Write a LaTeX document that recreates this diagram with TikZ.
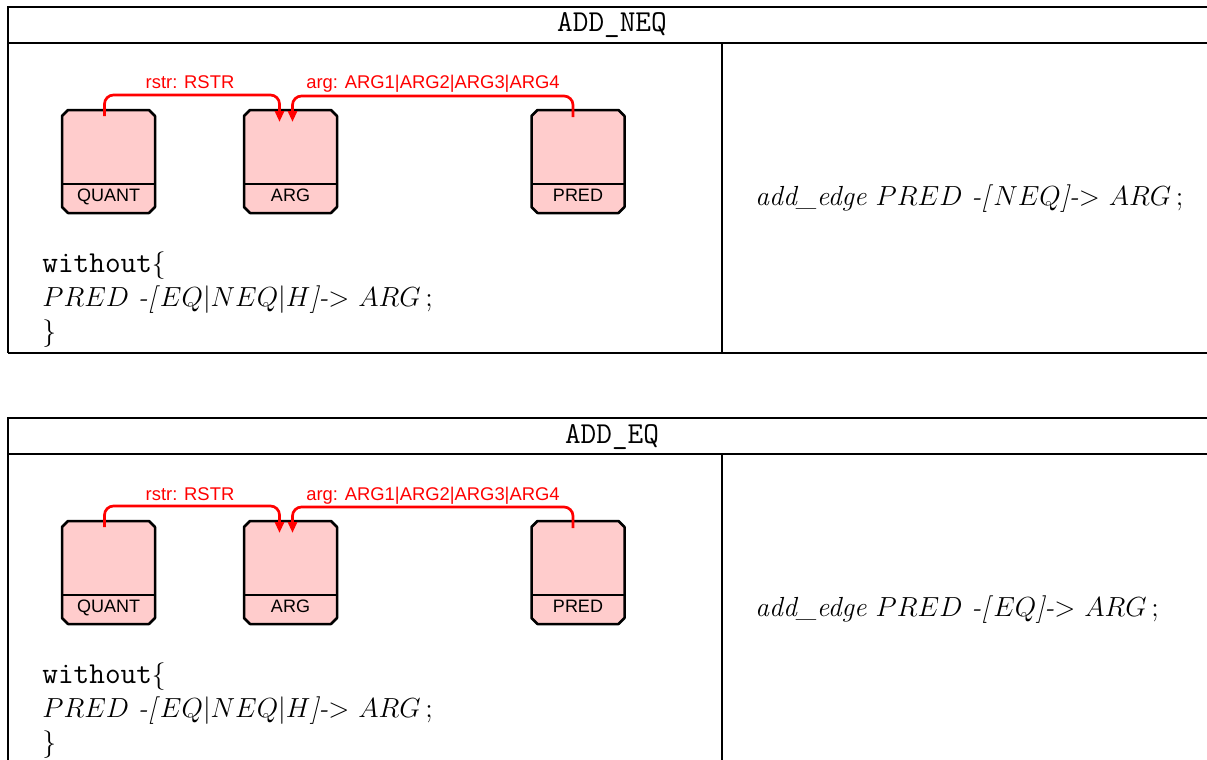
\RequirePackage{fix-cm}
\documentclass[tikz,border=0pt]{standalone}
\usepackage{fontspec}
\newfontfamily\boxfont{Liberation Sans}
\usetikzlibrary{arrows.meta}

\definecolor{recpink}{RGB}{255,204,204}

\tikzset{
    recbox/.style={rectangle, minimum width=46.5pt, minimum height=51.5pt, inner sep=0pt, outer sep=0pt},
    boxline/.style={line width=1.25pt, line join=round},
    reclabel/.style={font=\boxfont\fontsize{9}{10}\selectfont, inner sep=0pt, anchor=base},
    relarrow/.style={red, line width=1.35pt, rounded corners=4.5pt, -{Triangle[length=5.5pt,width=4.5pt]}},
    rellabel/.style={red, font=\boxfont\fontsize{9.2}{10}\selectfont, inner sep=0pt, anchor=base},
    tabline/.style={line width=0.8pt},
    bodytext/.style={font=\fontsize{13.8}{17}\selectfont, inner sep=0pt, anchor=base west}
}

% chamfered outline round a record box
\newcommand{\recframe}[1]{
    \filldraw[boxline, fill=recpink] ([xshift=3pt]#1.south west) -- ([xshift=-3pt]#1.south east)
        -- ([yshift=3pt]#1.south east) -- ([yshift=-3pt]#1.north east) -- ([xshift=-3pt]#1.north east)
        -- ([xshift=3pt]#1.north west) -- ([yshift=-3pt]#1.north west) -- ([yshift=3pt]#1.south west) -- cycle;
    \draw[boxline] ([yshift=14.5pt]#1.south west) -- ([yshift=14.5pt]#1.south east);
}

\begin{document}
\begin{tikzpicture}[x=0.5pt,y=-0.5pt]
    \useasboundingbox (0,0) rectangle (1207,760);
    \clip (0,0) rectangle (1207,760);
    \foreach \i/\dy/\tname/\tedge in {1/0/ADD\_NEQ/NEQ, 2/411/ADD\_EQ/EQ} {
        \begin{scope}[shift={(0,\dy)}]
            % table frame
            \draw[tabline] (1216,7) -- (8,7) -- (8,353);
            \draw[tabline] (8,43) -- (1216,43);
            \draw[tabline] (722,43) -- (722,353);
            \ifnum\i=1 \draw[tabline] (8,353) -- (1216,353); \fi
            \node[font=\ttfamily\fontsize{15.2}{17}\selectfont, inner sep=0pt, anchor=base] (title\i) at (612,32) {\tname};
            % record boxes
            \node[recbox] (quant\i) at (108.5,161.5) {};
            \node[recbox] (arg\i) at (290.5,161.5) {};
            \node[recbox] (pred\i) at (578,161.5) {};
            \foreach \b/\txt in {quant/QUANT, arg/ARG, pred/PRED} {
                \recframe{\b\i}
                \node[reclabel] (\b lab\i) at ([yshift=6pt]\b\i.south) {\txt};
            }
            % relations
            \draw[relarrow] ([shift={(-2pt,-3pt)}]quant\i.north) -- ++(0,-21) -| ([shift={(-5.5pt,-6pt)}]arg\i.north);
            \draw[relarrow] ([shift={(-2.5pt,-3.5pt)}]pred\i.north) -- ++(0,-21) -| ([shift={(1pt,-6pt)}]arg\i.north);
            \node[rellabel] (rstr\i) at (190,89) {rstr: RSTR};
            \node[rellabel] (argrel\i) at (433,89) {arg: ARG1|ARG2|ARG3|ARG4};
            % conditions and commands
            \node[bodytext] (without\i) at (42,272) {\texttt{\fontsize{15.2}{17}\selectfont without}$\{$};
            \node[bodytext] (cond\i) at (42,306) {$PRED$ \textit{-[}$EQ|NEQ|H$\textit{]-}$>$ $ARG$\,;};
            \node[bodytext] (close\i) at (42,340) {$\}$};
            \node[bodytext] (cmd\i) at (755,205) {\textit{add\_edge} $PRED$ \textit{-[}$\tedge$\textit{]-}$>$ $ARG$\,;};
        \end{scope}
    }
\end{tikzpicture}
\end{document}
